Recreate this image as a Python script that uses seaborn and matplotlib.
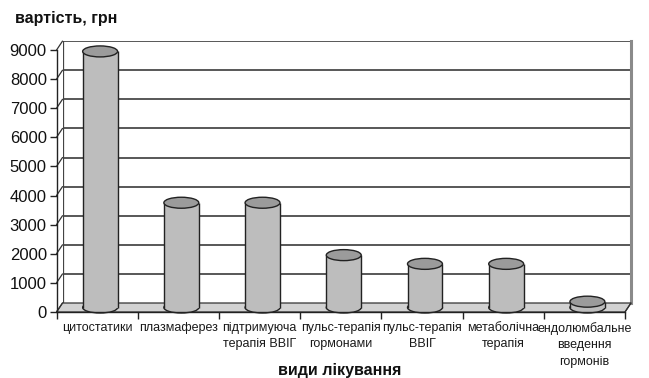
import numpy as np
import pandas as pd
import matplotlib
matplotlib.use("Agg")
import matplotlib.pyplot as plt
import seaborn as sns
from matplotlib.patches import Ellipse, Polygon

categories = ["цитостатики", "плазмаферез", "підтримуюча\nтерапія ВВІГ",
              "пульс-терапія\nгормонами", "пульс-терапія\nВВІГ",
              "метаболічна\nтерапія", "ендолюмбальне\nвведення\nгормонів"]
values = [8800, 3600, 3600, 1800, 1500, 1500, 200]
yticks = [0, 1000, 2000, 3000, 4000, 5000, 6000, 7000, 8000, 9000]
ylabel_text = "вартість, грн"
xlabel_text = "види лікування"

sns.set_theme(style="white")
plt.rcParams['font.family'] = ['Liberation Sans', 'DejaVu Sans']

W, H = 649, 378
fig = plt.figure(figsize=(W / 100, H / 100), dpi=100)


def rect(x0, ytop, x1, ybot):
    return [x0 / W, 1 - ybot / H, (x1 - x0) / W, (ybot - ytop) / H]


DX, DY = 3.0, 4.5   # pixel depth offset from mid plane
mx0, mx1 = 59.5, 628.0
my_top, my_bot = 45.6, 307.5

ax_back = fig.add_axes(rect(mx0 + DX, my_top - DY, mx1 + DX, my_bot - DY), zorder=1)
ax_mid = fig.add_axes(rect(mx0, my_top, mx1, my_bot), zorder=2)
ax_front = fig.add_axes(rect(mx0 - DX, my_top + DY, mx1 - DX, my_bot + DY), zorder=3)

n = len(categories)
for a in (ax_back, ax_mid, ax_front):
    a.set_xlim(-0.5, n - 0.5)
    a.set_ylim(0, 9000)

# --- back wall ---
ax_back.set_facecolor("white")
for v in yticks[1:]:
    ax_back.axhline(v, color="#2a2a2a", lw=1.1, zorder=1)
ax_back.set_xticks([])
ax_back.set_yticks([])
for s in ("top", "left", "bottom"):
    ax_back.spines[s].set_visible(False)
ax_back.spines["right"].set_color("#8a8a8a")
ax_back.spines["right"].set_linewidth(2.2)
ax_back.axvline(-0.5, color="#444444", lw=0.9)

# --- mid plane: cylinders ---
ax_mid.patch.set_alpha(0)
for s in ax_mid.spines.values():
    s.set_visible(False)

ppx = (n) / (mx1 - mx0)          # data x per pixel
ppy = 9000 / (my_bot - my_top)   # data y per pixel
dxd, dyd = DX * ppx, DY * ppy

# floor
floor = Polygon([(-0.5 + dxd, dyd), (n - 0.5 + dxd, dyd),
                 (n - 0.5 - dxd, -dyd), (-0.5 - dxd, -dyd)],
                closed=True, facecolor="#d2d2d2", edgecolor="#333333",
                lw=0.9, clip_on=False, zorder=0)
ax_mid.add_patch(floor)
# left side wall slants
for v in yticks:
    ax_mid.plot([-0.5 - dxd, -0.5 + dxd], [v - dyd, v + dyd],
                color="#333333", lw=0.9, clip_on=False, zorder=0)
# right floor slant
ax_mid.plot([n - 0.5 - dxd, n - 0.5 + dxd], [-dyd, dyd],
            color="#333333", lw=0.9, clip_on=False, zorder=0)

df = pd.DataFrame({"cat": categories, "val": values})
bw = 0.43
body = "#bdbdbd"
sns.barplot(data=df, x="cat", y="val", ax=ax_mid, color=body,
            width=bw, linewidth=0, saturation=1, zorder=3)
eh = 11 * ppy
for i, v in enumerate(values):
    ax_mid.add_patch(Ellipse((i, 0), bw, eh, facecolor=body,
                             edgecolor="#222222", lw=1.0, zorder=2,
                             clip_on=False))
    ax_mid.vlines([i - bw / 2, i + bw / 2], 0, v, color="#222222",
                  lw=1.0, zorder=4, clip_on=False)
    ax_mid.add_patch(Ellipse((i, v), bw, eh, facecolor="#9b9b9b",
                             edgecolor="#222222", lw=1.0, zorder=5,
                             clip_on=False))
ax_mid.set_xlim(-0.5, n - 0.5)
ax_mid.set_ylim(0, 9000)
ax_mid.set_xticks([])
ax_mid.set_yticks([])
ax_mid.set_xlabel("")
ax_mid.set_ylabel("")

# --- front plane: axes, ticks, labels ---
ax_front.patch.set_alpha(0)
ax_front.spines["top"].set_visible(False)
ax_front.spines["right"].set_visible(False)
for s in ("left", "bottom"):
    ax_front.spines[s].set_color("#222222")
    ax_front.spines[s].set_linewidth(1.0)
ax_front.set_yticks(yticks)
ax_front.set_yticklabels([str(v) for v in yticks], fontsize=12, color="#111111")
ax_front.set_xticks(range(n))
ax_front.set_xticklabels(categories, fontsize=9, color="#1a1a1a",
                         linespacing=1.5, va="top")
ax_front.set_xticks(np.arange(-0.5, n, 1.0), minor=True)
ax_front.tick_params(axis="x", which="major", length=0, pad=7)
ax_front.tick_params(axis="x", which="minor", length=5, width=1.0,
                     color="#222222", direction="out", bottom=True)
ax_front.tick_params(axis="y", which="major", length=5, width=1.0,
                     color="#222222", direction="out", left=True, pad=2)
ax_front.set_xlabel("")
ax_front.set_ylabel("")

fig.text(15 / W, 1 - 18 / H, ylabel_text, fontsize=11.5, fontweight="bold",
         ha="left", va="center", color="#111111")
fig.text(340 / W, 1 - 370 / H, xlabel_text, fontsize=11.5, fontweight="bold",
         ha="center", va="center", color="#111111")

fig.savefig("out.png", dpi=100, facecolor="white")
